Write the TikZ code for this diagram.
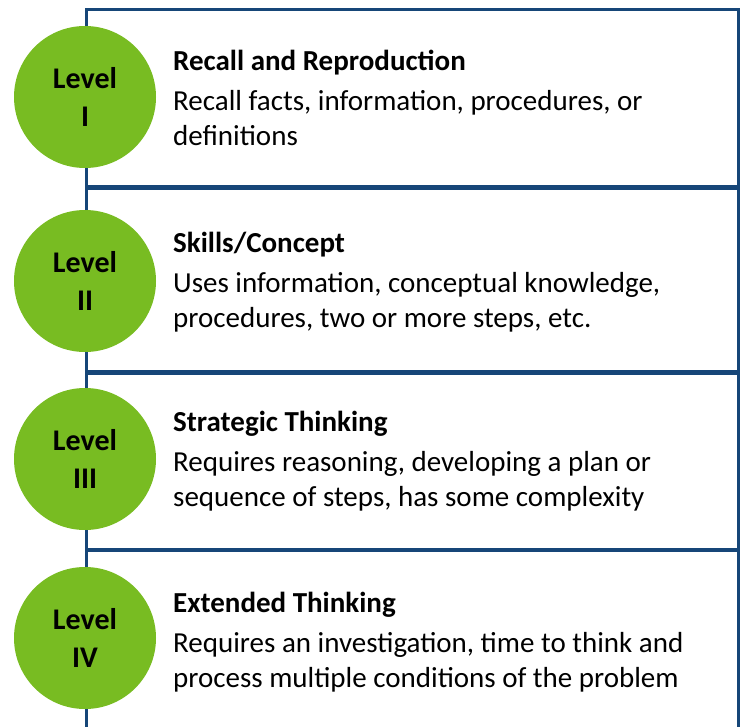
\documentclass[tikz,border=0pt]{standalone}
\usepackage{fontspec}
\setmainfont{Carlito}
\definecolor{dokblue}{RGB}{22,70,120}
\definecolor{dokgreen}{RGB}{120,188,34}

\begin{document}
\begin{tikzpicture}[x=1pt,y=-1pt,
		band/.style={draw=dokblue,line width=3pt,fill=white,anchor=north west,minimum width=652pt,inner sep=0pt},
		lvl/.style={circle,fill=dokgreen,minimum size=142pt,inner sep=0pt,align=center,font=\fontsize{30}{38}\selectfont\bfseries},
		desc/.style={anchor=base west,align=left,inner sep=0pt,font=\fontsize{29}{35}\selectfont}]
	\useasboundingbox (0,0) rectangle (746,727);
	% the four bands
	\node[band,minimum height=177pt] (b1) at (85,8) {};
	\node[band,minimum height=183pt] (b2) at (85,187) {};
	\node[band,minimum height=176pt] (b3) at (85,372) {};
	\node[band,minimum height=200pt] (b4) at (85,549) {};
	% level circles
	\node[lvl] (l1) at (85,97) {Level\\I};
	\node[lvl] (l2) at (85,281) {Level\\II};
	\node[lvl] (l3) at (85,459) {Level\\III};
	\node[lvl] (l4) at (85,638) {Level\\IV};
	% descriptions (base = last line)
	\node[desc] (d1) at (173,146) {\textbf{Recall and Reproduction}\\[5pt]Recall facts, information, procedures, or\\definitions};
	\node[desc] (d2) at (173,327) {\textbf{Skills/Concept}\\[5pt]Uses information, conceptual knowledge,\\procedures, two or more steps, etc.};
	\node[desc] (d3) at (173,506) {\textbf{Strategic Thinking}\\[5pt]Requires reasoning, developing a plan or\\sequence of steps, has some complexity};
	\node[desc] (d4) at (173,687) {\textbf{Extended Thinking}\\[5pt]Requires an investigation, time to think and\\process multiple conditions of the problem};
\end{tikzpicture}
\end{document}
